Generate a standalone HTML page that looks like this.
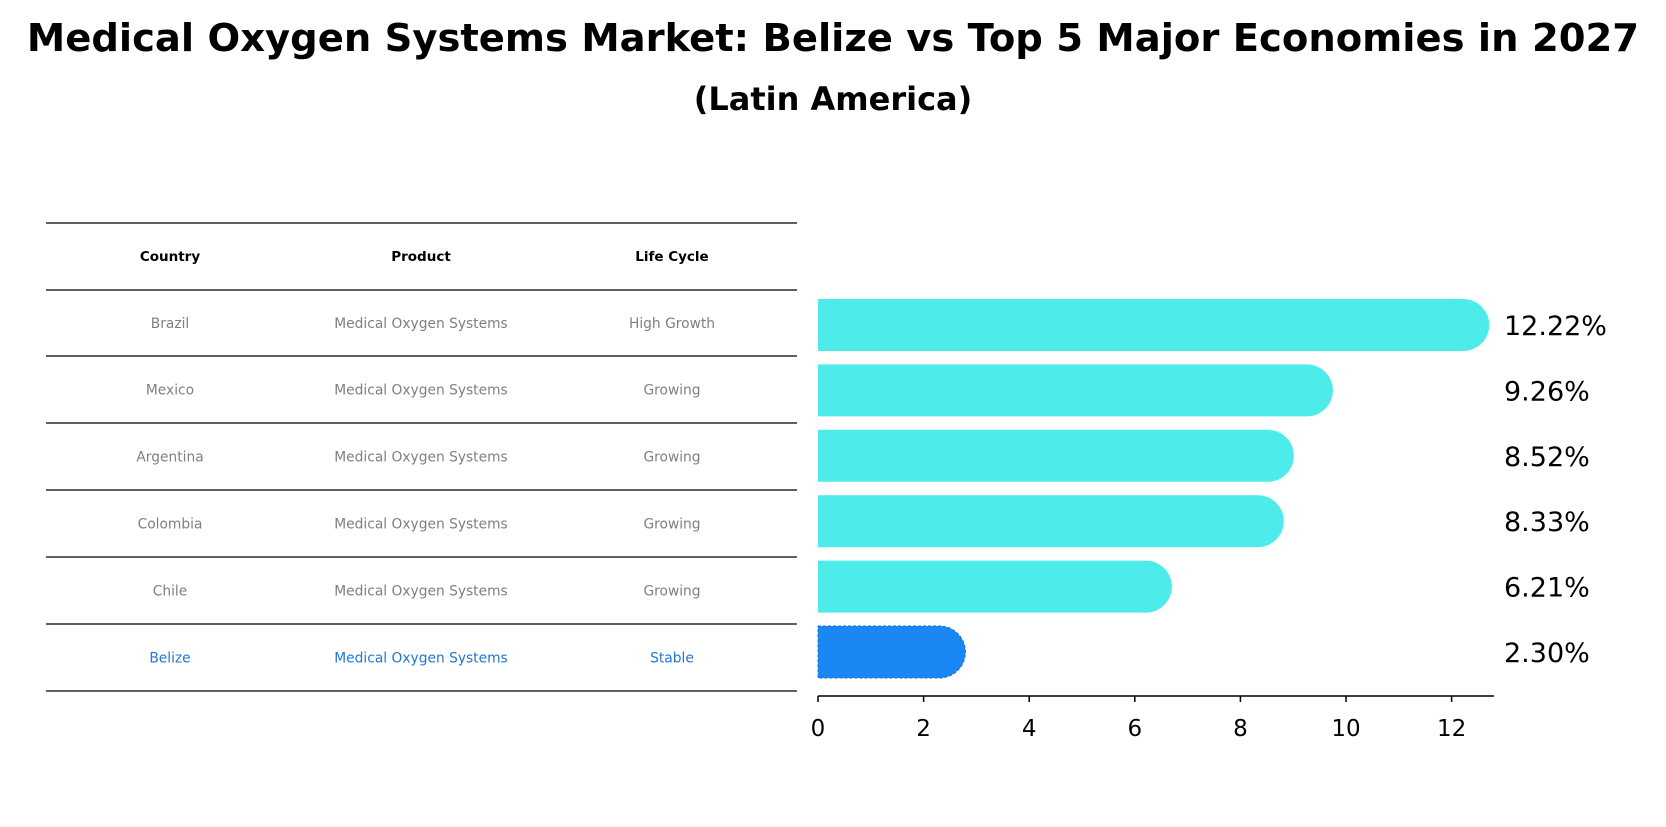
<!DOCTYPE html>
<html><head><meta charset="utf-8">
<style>
body{margin:0;background:#fff;font-family:"DejaVu Sans","Liberation Sans",sans-serif;}
</style></head>
<body>
<svg id="chart" width="1666" height="823" viewBox="0 0 1666 823" xmlns="http://www.w3.org/2000/svg">
<text x="833" y="51" text-anchor="middle" font-size="38.5" font-weight="bold">Medical Oxygen Systems Market: Belize vs Top 5 Major Economies in 2027</text>
<text x="833" y="110" text-anchor="middle" font-size="32" font-weight="bold">(Latin America)</text>
<g id="table"></g>
<g id="bars"></g>
</svg>
<script>
const countries=["Brazil","Mexico","Argentina","Colombia","Chile","Belize"];
const products=["Medical Oxygen Systems","Medical Oxygen Systems","Medical Oxygen Systems","Medical Oxygen Systems","Medical Oxygen Systems","Medical Oxygen Systems"];
const lifeCycles=["High Growth","Growing","Growing","Growing","Growing","Stable"];
const values=[12.22,9.26,8.52,8.33,6.21,2.30];
const valueLabels=["12.22%","9.26%","8.52%","8.33%","6.21%","2.30%"];
const xTicks=[0,2,4,6,8,10,12];

const NS="http://www.w3.org/2000/svg";
function mk(tag,attrs,parent){const e=document.createElementNS(NS,tag);for(const k in attrs)e.setAttribute(k,attrs[k]);parent.appendChild(e);return e;}
const tbl=document.getElementById('table');
const bars=document.getElementById('bars');
const lineYs=[223,290,356,423,490,557,624,691];
const colX=[170,421,672];
lineYs.forEach((y,i)=>{const l=mk('line',{x1:46,x2:797,y1:y,y2:y,stroke:'#000','stroke-width':1.2},tbl);

});
const headers=["Country","Product","Life Cycle"];
headers.forEach((h,i)=>{const t=mk('text',{x:colX[i],y:261,'text-anchor':'middle','font-size':13.5,'font-weight':'bold'},tbl);t.textContent=h;

});
countries.forEach((c,r)=>{const y=(lineYs[r+1]+lineYs[r+2])/2+5;const col=r===countries.length-1?'#1f77d4':'#808080';
[c,products[r],lifeCycles[r]].forEach((v,i)=>{const t=mk('text',{x:colX[i],y:y,'text-anchor':'middle','font-size':13.8,fill:col},tbl);t.textContent=v;

});});
const x0=818, unit=52.8, axisY=696;
const xs=v=>x0+v*unit;
const rowY=i=>325+i*65.4;
const bh=52;
values.forEach((v,i)=>{const cy=rowY(i);const xe=xs(v);const r=bh/2;
const hl=i===values.length-1;
const p=mk('path',{d:`M${x0},${cy-r} L${xe},${cy-r} A${r},${r} 0 0 1 ${xe},${cy+r} L${x0},${cy+r} Z`,fill:hl?'#1a87f5':'#4deceb',stroke:hl?'#1a6fd0':'none','stroke-dasharray':hl?'3,2':'none','stroke-width':1},bars);


const t=mk('text',{x:1504,y:cy+10,'font-size':27},bars);t.textContent=valueLabels[i];

});
const ax=mk('line',{x1:x0,x2:1494,y1:axisY,y2:axisY,stroke:'#000','stroke-width':1.5},bars);


xTicks.forEach(v=>{const tk=mk('line',{x1:xs(v),x2:xs(v),y1:axisY,y2:axisY+6,stroke:'#000','stroke-width':1.5},bars);


const t=mk('text',{x:xs(v),y:736,'text-anchor':'middle','font-size':23},bars);t.textContent=v;

});
</script>
</body></html>
